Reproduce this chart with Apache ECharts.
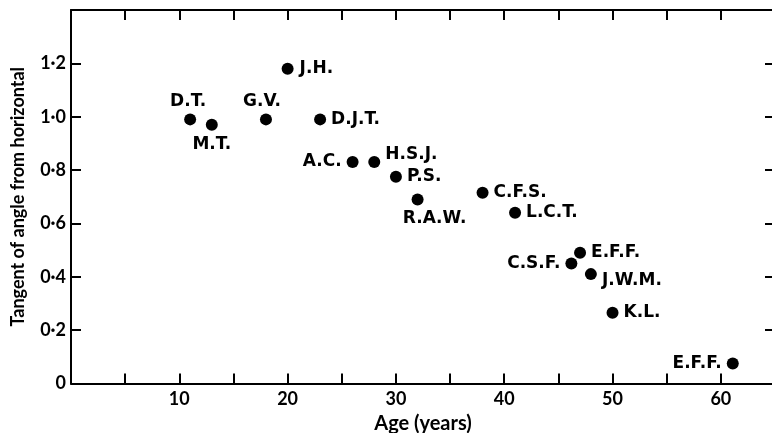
<!DOCTYPE html>
<html><head><meta charset="utf-8">
<script src="https://cdn.jsdelivr.net/npm/echarts@6/dist/echarts.min.js"></script>
<style>html,body{margin:0;padding:0;background:#fff}#c{width:772px;height:433px}</style>
</head><body><div id="c"></div>
<script>
const names = ['D.T.','M.T.','G.V.','J.H.','D.J.T.','A.C.','H.S.J.','P.S.','R.A.W.','C.F.S.','L.C.T.','C.S.F.','E.F.F.','J.W.M.','K.L.','E.F.F.'];
const ages = [11, 13, 18, 20, 23, 26, 28, 30, 32, 38, 41, 46.2, 47, 48, 50, 61.1];
const tangents = [0.99, 0.97, 0.99, 1.18, 0.99, 0.83, 0.83, 0.775, 0.69, 0.715, 0.64, 0.45, 0.49, 0.41, 0.265, 0.075];
const xTickLabels = [10, 20, 30, 40, 50, 60];
const yTickLabels = ['0', '0·2', '0·4', '0·6', '0·8', '1·0', '1·2'];

// label placement (styling only)
const labelPos = ['top','bottom','top','right','right','left','right','right','bottom','right','right','left','right','right','right','left'];
const labelOff = [[-2,2],[0,0],[-4,2],[1,0],[0,0],[0,0],[0,-7],[0,0],[17,0],[0,0],[0,0],[0,0],[0,0],[0,6],[0,0],[0,0]];

const txt = {color:'#000', fontFamily: 'Lato', fontSize: 18, fontWeight: 'bold'};
const lblTxt = {color:'#000', fontFamily: 'DejaVu Sans', fontSize: 17, fontWeight: 'bold'};

const data = names.map((n, i) => ({
  value: [ages[i], tangents[i]],
  name: n,
  label: {show: true, position: labelPos[i], offset: labelOff[i], formatter: n, ...lblTxt}
}));

const chart = echarts.init(document.getElementById('c'), null, {renderer: 'canvas'});
chart.setOption({
  animation: false,
  backgroundColor: '#fff',
  grid: {left: 71, right: -3, top: 10, bottom: 49.5, containLabel: false, outerBoundsMode: 'none'},
  xAxis: [{
    type: 'value', min: 0, max: 65, interval: 5, position: 'bottom',
    name: 'Age (years)', nameLocation: 'middle', nameGap: 29, nameTextStyle: {...txt, fontSize: 20},
    axisLine: {show: true, onZero: false, lineStyle: {color:'#000', width: 2}},
    axisTick: {show: true, inside: true, length: 10, lineStyle: {color:'#000', width: 2}},
    axisLabel: {...txt, margin: 7, formatter: v => xTickLabels.includes(v) ? String(v) : ''},
    splitLine: {show: false}
  }, {
    type: 'value', min: 0, max: 65, interval: 5, position: 'top',
    axisLine: {show: true, onZero: false, lineStyle: {color:'#000', width: 2}},
    axisTick: {show: true, inside: true, length: 10, lineStyle: {color:'#000', width: 2}},
    axisLabel: {show: false}, splitLine: {show: false}
  }],
  yAxis: [{
    type: 'value', min: 0, max: 1.4, interval: 0.2, position: 'left',
    name: 'Tangent of angle from horizontal', nameLocation: 'middle', nameGap: 44, nameRotate: 90,
    nameTextStyle: {...txt},
    axisLine: {show: true, onZero: false, lineStyle: {color:'#000', width: 2}},
    axisTick: {show: true, inside: true, length: 10, lineStyle: {color:'#000', width: 2}},
    axisLabel: {...txt, margin: 5, formatter: v => yTickLabels[Math.round(v / 0.2)] || ''},
    splitLine: {show: false}
  }, {
    type: 'value', min: 0, max: 1.4, interval: 0.2, position: 'right',
    axisLine: {show: false, onZero: false},
    axisTick: {show: true, inside: true, length: 10, lineStyle: {color:'#000', width: 2}},
    axisLabel: {show: false}, splitLine: {show: false}
  }],
  series: [{
    type: 'scatter', xAxisIndex: 0, yAxisIndex: 0,
    symbol: 'circle', symbolSize: 12,
    itemStyle: {color: '#000', opacity: 1},
    data: data
  }]
});
</script>
</body></html>
